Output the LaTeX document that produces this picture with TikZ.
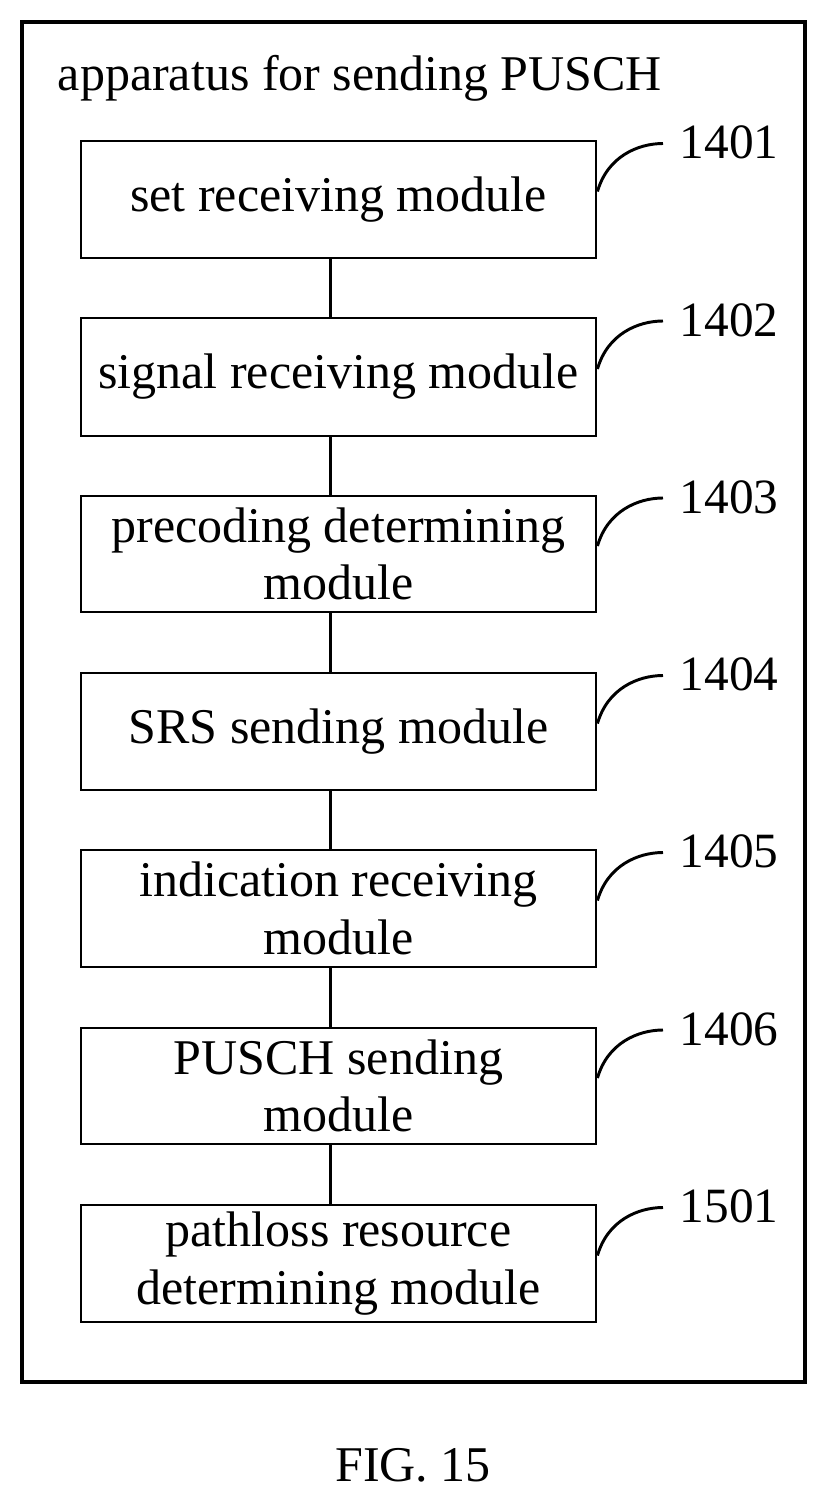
\documentclass[tikz,border=0pt]{standalone}
\usepackage{fontspec}
\setmainfont{Liberation Serif}
\begin{document}
\begin{tikzpicture}[x=0.75pt,y=-0.75pt,
  mod/.style={draw,line width=2.2pt,minimum width=515*0.75pt,align=center,font=\fontsize{37.5}{43}\selectfont,inner sep=0pt},
  lab/.style={font=\fontsize{37}{42}\selectfont,anchor=west},
  ln/.style={line width=2.2pt}]
\useasboundingbox (0,0) rectangle (827,1503);
\node[draw,line width=2.5pt,minimum width=783*0.75pt,minimum height=1360*0.75pt,inner sep=0pt] (frame) at (413.5,702) {};
\node[font=\fontsize{37.5}{43}\selectfont] (title) at (360,78) {apparatus for sending PUSCH};
\foreach \n/\y/\h/\t/\l in {
 1/199.5/117/{set receiving module}/1401,
 2/377/118/{signal receiving module}/1402,
 3/554/116/{precoding determining\\module}/1403,
 4/731.5/117/{SRS sending module}/1404,
 5/908.5/117/{indication receiving\\module}/1405,
 6/1086/116/{PUSCH sending\\module}/1406,
 7/1263.5/117/{pathloss resource\\determining module}/1501}{
  \node[mod,minimum height=\h*0.75pt] (m\n) at (338.5,\y) {\t};
  \node[lab] (l\n) at (675,\y-57) {\l};
  \draw[ln] ([yshift=8*0.75pt]m\n.east) .. controls +(10,-35) and +(-25,0) .. ([xshift=-12*0.75pt,yshift=-0.75pt]l\n.west);
}
\foreach \a/\b in {1/2,2/3,3/4,4/5,5/6,6/7} \draw[ln] ([xshift=-8*0.75pt]m\a.south) -- ([xshift=-8*0.75pt]m\b.north);
\node[font=\fontsize{37.5}{43}\selectfont] (fig) at (413,1465) {FIG. 15};
\end{tikzpicture}
\end{document}
